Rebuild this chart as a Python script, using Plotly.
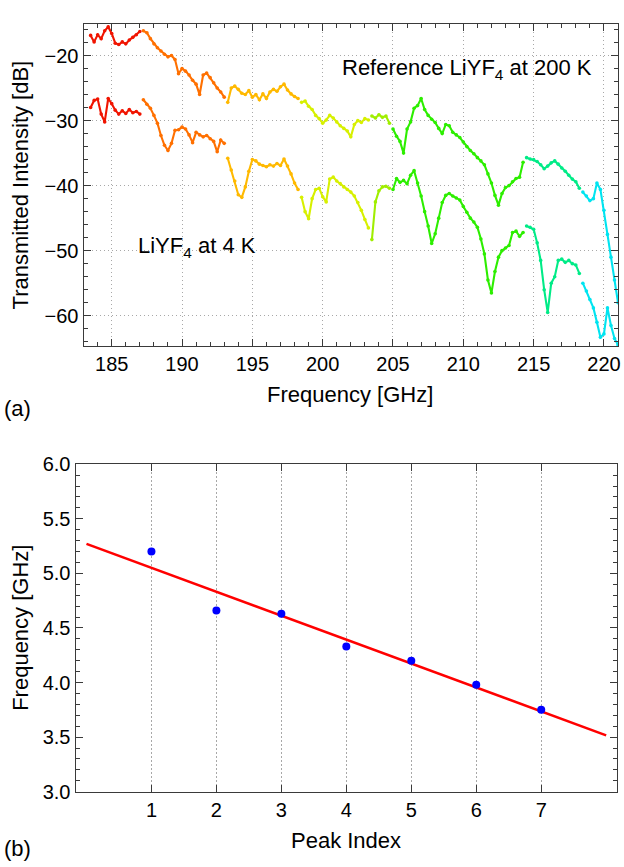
import numpy as np
import plotly.graph_objects as go

# ---------------- data ----------------
freq_ghz = np.round(np.arange(183.5, 221.001, 0.25), 2)   # sampling grid of the spectra

ref_200K_db = [
    -16.9, -17.9, -16.8, -17.4, -16.2, -15.6, -16.6, -18.1, -18.3, -17.9,
    -18.2, -17.6, -17.2, -16.8, -16.3, -16.2, -16.5, -17.4, -18.2, -18.8,
    -19.3, -19.8, -20.2, -20.0, -20.6, -22.8, -22.0, -22.4, -23.0, -23.8,
    -24.4, -26.0, -23.0, -22.7, -23.4, -24.2, -25.0, -25.6, -26.4, -27.2,
    -25.0, -24.7, -25.2, -25.8, -26.0, -25.4, -26.4, -26.0, -26.8, -25.9,
    -26.6, -25.6, -25.2, -25.5, -24.8, -24.4, -25.3, -25.9, -26.3, -26.6,
    -27.2, -27.0, -27.8, -28.3, -29.2, -29.7, -30.4, -29.9, -29.2, -29.6,
    -30.2, -30.8, -31.2, -31.6, -32.5, -30.6, -30.0, -30.3, -29.7, -29.9,
    -29.3, -29.6, -29.1, -29.5, -29.3, -30.4, -31.3, -32.4, -33.2, -35.0,
    -31.3, -30.2, -28.1, -27.7, -26.6, -28.3, -29.2, -29.8, -30.3, -31.2,
    -32.0, -30.6, -30.8, -31.8, -32.2, -32.6, -33.3, -34.0, -34.6, -35.1,
    -35.7, -36.2, -36.8, -38.2, -39.6, -41.5, -43.0, -41.2, -40.3, -40.0,
    -39.4, -38.9, -38.7, -36.4, -35.7, -35.9, -36.0, -36.3, -36.8, -37.4,
    -37.0, -36.5, -36.2, -36.7, -37.3, -37.8, -38.4, -39.0, -39.4, -40.4,
    -41.0, -41.6, -42.3, -42.0, -39.6, -40.6, -43.8, -47.5, -51.0, -54.5,
    -58.0,
]

liyf4_4K_db = [
    -28.0, -26.9, -26.7, -29.0, -30.2, -26.6, -27.4, -28.4, -29.0, -28.5,
    -28.9, -28.3, -28.8, -28.6, -29.0, -26.8, -27.5, -28.1, -29.2, -30.4,
    -32.3, -33.8, -34.6, -33.5, -31.5, -31.4, -31.0, -31.3, -32.2, -33.4,
    -31.8, -32.2, -32.5, -32.3, -32.8, -33.2, -34.8, -33.0, -33.5, -35.8,
    -37.6, -39.3, -41.4, -41.8, -40.2, -37.8, -36.0, -36.2, -36.7, -36.9,
    -37.1, -36.8, -37.0, -36.6, -36.9, -35.9, -37.0, -38.2, -39.6, -40.6,
    -41.8, -44.0, -45.1, -42.0, -40.6, -40.4, -41.7, -42.5, -39.0, -38.7,
    -39.3, -39.7, -40.2, -40.6, -41.0, -41.6, -42.6, -43.8, -45.2, -46.5,
    -48.3, -42.5, -40.8, -40.2, -40.1, -40.4, -40.6, -38.9, -39.5, -39.2,
    -39.7, -38.4, -37.7, -39.6, -41.6, -44.0, -46.2, -48.9, -47.4, -45.0,
    -42.6, -41.5, -41.2, -41.6, -41.9, -42.2, -43.2, -44.1, -45.0, -45.6,
    -46.4, -48.2, -50.5, -54.5, -56.5, -53.2, -51.0, -50.0, -49.6, -49.2,
    -47.2, -47.0, -47.8, -47.2, -46.2, -46.4, -46.7, -48.8, -51.5, -56.0,
    -59.5, -55.0, -54.0, -51.5, -51.3, -51.8, -51.5, -52.0, -52.2, -53.5,
    -55.0, -56.2, -57.5, -58.8, -61.0, -63.3, -62.8, -58.8, -61.5, -63.5,
    -64.5,
]

peak_index = [1, 2, 3, 4, 5, 6, 7]
peak_spacing_ghz = [5.20, 4.66, 4.63, 4.33, 4.20, 3.98, 3.75]

x_ticks_top = [185, 190, 195, 200, 205, 210, 215, 220]
y_ticks_top = [-60, -50, -40, -30, -20]
x_ticks_bot = [1, 2, 3, 4, 5, 6, 7]
y_ticks_bot = [3.0, 3.5, 4.0, 4.5, 5.0, 5.5, 6.0]

# colour bands of the sweep segments (style)
seg_edges = [183.0, 187.1, 193.2, 198.3, 203.3, 205.0, 214.5, 218.5, 221.5]
seg_colors = ["rgb(240,20,0)", "rgb(255,112,0)", "rgb(255,185,0)",
              "rgb(215,240,0)", "rgb(160,238,0)", "rgb(45,238,0)",
              "rgb(0,235,135)", "rgb(0,228,240)"]

assert len(freq_ghz) == len(ref_200K_db) == len(liyf4_4K_db)

FONT = "Liberation Sans, Arial, Helvetica, sans-serif"
W, H = 624, 867

fig = go.Figure()

ref = np.array(ref_200K_db)
low = np.array(liyf4_4K_db)
for i, col in enumerate(seg_colors):
    m = (freq_ghz >= seg_edges[i]) & (freq_ghz < seg_edges[i + 1])
    for series in (ref, low):
        fig.add_trace(go.Scatter(
            x=freq_ghz[m], y=series[m], mode="lines+markers",
            line=dict(color=col, width=2.1),
            marker=dict(color=col, size=3.6, line=dict(width=0)),
            xaxis="x", yaxis="y", showlegend=False, hoverinfo="skip"))

# bottom panel: linear fit and points
coef = np.polyfit(peak_index, peak_spacing_ghz, 1)
fit_x = np.array([0.0, 8.0])
fig.add_trace(go.Scatter(x=fit_x, y=np.polyval(coef, fit_x), mode="lines",
                         line=dict(color="rgb(255,0,0)", width=2.6),
                         xaxis="x2", yaxis="y2", showlegend=False))
fig.add_trace(go.Scatter(x=peak_index, y=peak_spacing_ghz, mode="markers",
                         marker=dict(color="rgb(0,0,255)", size=8),
                         xaxis="x2", yaxis="y2", showlegend=False))

axis_common = dict(showline=True, linecolor="#3a3a3a", linewidth=1.3,
                   mirror="ticks", ticks="inside", tickcolor="#3a3a3a",
                   tickwidth=1.1, ticklen=7, zeroline=False,
                   tickfont=dict(family=FONT, size=20, color="black"))
grid = dict(showgrid=True, gridcolor="#a8a8a8", gridwidth=1.2, griddash="1.5px,2.5px")

def px2x(p):
    return p / W

def py2y(p):
    return 1 - p / H

fig.update_layout(
    width=W, height=H, margin=dict(l=0, r=0, t=0, b=0),
    paper_bgcolor="white", plot_bgcolor="white",
    xaxis=dict(domain=[px2x(84), px2x(621)], range=[183.0, 221.0],
               tickvals=x_ticks_top, anchor="y",
               minor=dict(dtick=1, ticks="inside", ticklen=4,
                          tickcolor="#3a3a3a", showgrid=False),
               **grid, **axis_common),
    yaxis=dict(domain=[py2y(344), py2y(13)], range=[-64.7, -15.1],
               tickvals=y_ticks_top, anchor="x",
               minor=dict(dtick=2, ticks="inside", ticklen=4,
                          tickcolor="#3a3a3a", showgrid=False),
               **grid, **axis_common),
    xaxis2=dict(domain=[px2x(76), px2x(620)], range=[-0.167, 8.167],
                tickvals=x_ticks_bot, anchor="y2",
                **grid, **axis_common),
    yaxis2=dict(domain=[py2y(801), py2y(465)], range=[3.0, 6.0],
                tickvals=y_ticks_bot, tickformat=".1f", anchor="x2",
                showgrid=False,
                minor=dict(dtick=0.1, ticks="inside", ticklen=4,
                           tickcolor="#3a3a3a", showgrid=False),
                **axis_common),
)

def label(text, x, y, size=22, angle=0, xanchor="center", xref="paper", yref="paper"):
    fig.add_annotation(text=text, x=x, y=y, xref=xref, yref=yref,
                       showarrow=False, textangle=angle, xanchor=xanchor,
                       yanchor="middle",
                       font=dict(family=FONT, size=size, color="black"))

label("Transmitted Intensity [dB]", px2x(21), py2y(178), size=22, angle=-90)
label("Frequency [GHz]", px2x(352), py2y(393), size=22)
label("(a)", px2x(2), py2y(408), size=22, xanchor="left")
label("Frequency [GHz]", px2x(21), py2y(633), size=22, angle=-90)
label("Peak Index", px2x(348), py2y(851), size=22)
label("(b)", px2x(2), py2y(859), size=22, xanchor="left")
label("Reference LiYF<sub>4</sub> at 200 K", 201.2, -22.1, size=22,
      xanchor="left", xref="x", yref="y")
label("LiYF<sub>4</sub> at 4 K", 186.75, -49.5, size=22,
      xanchor="left", xref="x", yref="y")

# the page body has a default 8px margin; remove it so the figure fills the window
fig.write_html("out.html", config={"displayModeBar": False},
               post_script="document.body.style.margin='0';")
